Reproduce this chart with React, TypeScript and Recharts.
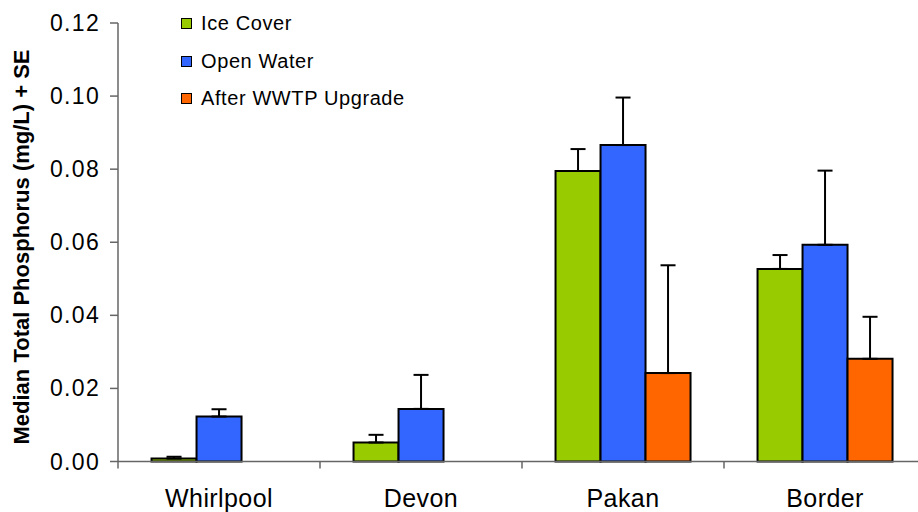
import { BarChart, Bar, XAxis, YAxis, ErrorBar, Legend } from 'recharts';

const categories = ['Whirlpool', 'Devon', 'Pakan', 'Border'];
const seriesNames = ['Ice Cover', 'Open Water', 'After WWTP Upgrade'];
const iceCover = [0.0008, 0.0052, 0.0795, 0.0527];
const iceCoverSE = [0.0005, 0.0021, 0.006, 0.0038];
const openWater = [0.0123, 0.0144, 0.0866, 0.0593];
const openWaterSE = [0.002, 0.0093, 0.013, 0.0203];
const afterUpgrade = [null, null, 0.0242, 0.0281];
const afterUpgradeSE = [null, null, 0.0295, 0.0115];
const yTicks = [0, 0.02, 0.04, 0.06, 0.08, 0.1, 0.12];

const data = categories.map((name, i) => ({
  name,
  ice: iceCover[i],
  iceErr: [0, iceCoverSE[i]],
  open: openWater[i],
  openErr: [0, openWaterSE[i]],
  after: afterUpgrade[i],
  afterErr: afterUpgradeSE[i] == null ? null : [0, afterUpgradeSE[i]],
}));

const FONT = "'Liberation Sans', Arial, sans-serif";
const AXIS = '#666';

function YTick(props: any) {
  const { x, y, payload } = props;
  return (
    <text x={x} y={y} dy={8} textAnchor="end" fontSize={23} fill="#000" fontFamily={FONT} letterSpacing={1.3}>
      {Number(payload.value).toFixed(2)}
    </text>
  );
}

function XTick(props: any) {
  const { x, y, payload } = props;
  const half = payload.offset ?? 0;
  return (
    <g>
      <line x1={x - half} y1={y} x2={x - half} y2={y + 7} stroke={AXIS} strokeWidth={1.5} />
      <text x={x} y={y + 45} textAnchor="middle" fontSize={25} fill="#000" fontFamily={FONT} letterSpacing={0.4}>
        {payload.value}
      </text>
    </g>
  );
}

function LegendBox(props: any) {
  const items = [...(props.payload || [])].sort(
    (a: any, b: any) => seriesNames.indexOf(a.value) - seriesNames.indexOf(b.value)
  );
  return (
    <div style={{ fontFamily: FONT }}>
      {items.map((item: any) => (
        <div key={item.value} style={{ display: 'flex', alignItems: 'center', height: 37.5 }}>
          <span
            style={{
              width: 9,
              height: 9,
              background: item.color,
              border: '1.5px solid #000',
              display: 'inline-block',
            }}
          />
          <span style={{ marginLeft: 9, fontSize: 20, letterSpacing: 0.6, color: '#000' }}>{item.value}</span>
        </div>
      ))}
    </div>
  );
}

export default function App() {
  return (
    <div style={{ position: 'absolute', left: 0, top: 0, width: 918, height: 512, overflow: 'hidden', background: '#fff' }}>
      <BarChart
        width={930}
        height={512}
        data={data}
        margin={{ top: 23, right: 4, left: 0, bottom: 0 }}
        barCategoryGap="16.6%"
        barGap={0}
      >
        <XAxis
          dataKey="name"
          height={50.5}
          interval={0}
          axisLine={{ stroke: AXIS, strokeWidth: 1.5 }}
          tickLine={false}
          tickSize={0}
          tickMargin={0}
          tick={<XTick />}
        />
        <YAxis
          width={118}
          domain={[0, 0.12]}
          ticks={yTicks}
          interval={0}
          axisLine={{ stroke: AXIS, strokeWidth: 1.5 }}
          tickLine={{ stroke: AXIS, strokeWidth: 1.5 }}
          tickSize={8}
          tickMargin={10}
          tick={<YTick />}
          label={{
            content: () => (
              <text
                x={28.5}
                y={247}
                transform="rotate(-90, 28.5, 247)"
                textAnchor="middle"
                fontSize={22}
                fontWeight="bold"
                fill="#000"
                fontFamily={FONT}
              >
                Median Total Phosphorus (mg/L) + SE
              </text>
            ),
          }}
        />
        <Legend
          layout="vertical"
          verticalAlign="middle"
          align="center"
          content={<LegendBox />}
          wrapperStyle={{ position: 'absolute', top: 5, left: 181, width: 260 }}
        />
        <Bar dataKey="ice" name="Ice Cover" fill="#99CC00" stroke="#000" strokeWidth={2} isAnimationActive={false}>
          <ErrorBar dataKey="iceErr" width={7.5} stroke="#000" strokeWidth={2} direction="y" />
        </Bar>
        <Bar dataKey="open" name="Open Water" fill="#3366FF" stroke="#000" strokeWidth={2} isAnimationActive={false}>
          <ErrorBar dataKey="openErr" width={7.5} stroke="#000" strokeWidth={2} direction="y" />
        </Bar>
        <Bar dataKey="after" name="After WWTP Upgrade" fill="#FF6600" stroke="#000" strokeWidth={2} isAnimationActive={false}>
          <ErrorBar dataKey="afterErr" width={7.5} stroke="#000" strokeWidth={2} direction="y" />
        </Bar>
      </BarChart>
    </div>
  );
}
